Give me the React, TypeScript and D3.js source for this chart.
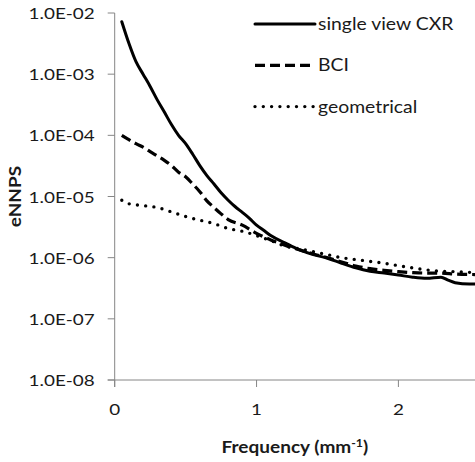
import React from 'react';
import * as d3 from 'd3';

// frequency (mm^-1) and eNNPS
const cxrFreq = [0.05, 0.1, 0.15, 0.2, 0.25, 0.3, 0.35, 0.4, 0.45, 0.5, 0.55, 0.6, 0.65, 0.7, 0.75, 0.8, 0.85, 0.9, 0.95, 1.0, 1.05, 1.1, 1.2, 1.3, 1.4, 1.5, 1.6, 1.7, 1.8, 1.9, 2.0, 2.1, 2.2, 2.3, 2.35, 2.4, 2.5, 2.54];
const cxrValues = [7.2e-3, 3.2e-3, 1.6e-3, 1.0e-3, 6.3e-4, 3.8e-4, 2.4e-4, 1.5e-4, 1.0e-4, 7.3e-5, 4.9e-5, 3.2e-5, 2.2e-5, 1.6e-5, 1.15e-5, 8.7e-6, 6.8e-6, 5.5e-6, 4.4e-6, 3.4e-6, 2.8e-6, 2.3e-6, 1.75e-6, 1.35e-6, 1.12e-6, 9.8e-7, 8.1e-7, 6.8e-7, 6.0e-7, 5.6e-7, 5.2e-7, 4.8e-7, 4.6e-7, 4.8e-7, 4.3e-7, 3.9e-7, 3.7e-7, 3.7e-7];

const bciFreq = [0.05, 0.1, 0.15, 0.2, 0.25, 0.3, 0.35, 0.4, 0.45, 0.5, 0.55, 0.6, 0.65, 0.7, 0.75, 0.8, 0.9, 1.0, 1.1, 1.2, 1.3, 1.4, 1.5, 1.6, 1.7, 1.8, 1.9, 2.0, 2.1, 2.2, 2.3, 2.4, 2.54];
const bciValues = [1.0e-4, 8.5e-5, 7.3e-5, 6.4e-5, 5.4e-5, 4.6e-5, 3.9e-5, 3.2e-5, 2.5e-5, 2.1e-5, 1.6e-5, 1.2e-5, 8.5e-6, 6.6e-6, 5.2e-6, 4.2e-6, 3.4e-6, 2.5e-6, 1.95e-6, 1.6e-6, 1.35e-6, 1.15e-6, 1.0e-6, 8.5e-7, 7.3e-7, 6.6e-7, 6.2e-7, 5.9e-7, 5.7e-7, 5.6e-7, 5.6e-7, 5.4e-7, 5.3e-7];

const geoFreq = [0.05, 0.1, 0.2, 0.3, 0.4, 0.5, 0.6, 0.7, 0.8, 0.9, 1.0, 1.1, 1.2, 1.3, 1.4, 1.5, 1.6, 1.7, 1.8, 1.9, 2.0, 2.1, 2.2, 2.3, 2.4, 2.54];
const geoValues = [8.7e-6, 7.6e-6, 7.1e-6, 6.6e-6, 5.6e-6, 4.7e-6, 4.1e-6, 3.6e-6, 3.0e-6, 2.7e-6, 2.3e-6, 1.9e-6, 1.55e-6, 1.4e-6, 1.25e-6, 1.12e-6, 1.0e-6, 9.3e-7, 8.7e-7, 8.1e-7, 7.4e-7, 6.8e-7, 6.3e-7, 6.0e-7, 5.9e-7, 5.7e-7];

const seriesNames = ['single view CXR', 'BCI', 'geometrical'];
const yTicks = [1e-2, 1e-3, 1e-4, 1e-5, 1e-6, 1e-7, 1e-8];
const xTicks = [0, 1, 2];

const FONT = 'Lato, sans-serif';
const SX = 1.18; // reference text is drawn wide

const W = 475, H = 462;
const x = d3.scaleLinear().domain([0, 2.54]).range([114.7, 475]);
const y = d3.scaleLog().domain([1e-8, 1e-2]).range([380, 13]);

const fmtExp = (v: number) => {
  const e = Math.round(Math.log10(v));
  return '1.0E-' + String(-e).padStart(2, '0');
};

const styles = [
  { dash: undefined, width: 3, cap: 'round' },
  { dash: '10,5', width: 3.2, cap: 'butt' },
  { dash: '0,8.3', width: 3.4, cap: 'round' },
];

export default function App() {
  const line = d3.line<[number, number]>()
    .x(d => x(d[0]))
    .y(d => y(d[1]))
    .curve(d3.curveMonotoneX);

  const series = [
    d3.zip(cxrFreq, cxrValues),
    d3.zip(bciFreq, bciValues),
    d3.zip(geoFreq, geoValues),
  ] as [number, number][][];

  const axisColor = '#868686';
  const textColor = '#1a1a1a';
  const [x0, x1] = x.range();
  const [yb, yt] = y.range();

  return (
    <svg width={W} height={H} style={{ position: 'absolute', left: 0, top: 0, background: '#fff' }}
      fontFamily={FONT}>
      {/* y axis */}
      <line x1={x0} x2={x0} y1={yt} y2={yb + 7} stroke={axisColor} strokeWidth={1} />
      {yTicks.map(t => (
        <g key={t}>
          <line x1={x0 - 7} x2={x0} y1={y(t)} y2={y(t)} stroke={axisColor} />
          <text transform={`translate(${x0 - 20},${y(t) + 6}) scale(${SX},1)`} textAnchor="end"
            fontSize={16} fill={textColor}>{fmtExp(t)}</text>
        </g>
      ))}
      {/* x axis */}
      <line x1={x0 - 7} x2={x1} y1={yb} y2={yb} stroke={axisColor} strokeWidth={1} />
      {xTicks.map(t => (
        <g key={t}>
          <line x1={x(t)} x2={x(t)} y1={yb} y2={yb + 7} stroke={axisColor} />
          <text transform={`translate(${x(t)},${yb + 35}) scale(${SX},1)`} textAnchor="middle"
            fontSize={16} fill={textColor}>{t}</text>
        </g>
      ))}

      {/* axis titles */}
      <text transform={`translate(${(x0 + x1) / 2},${453}) scale(1.12,1)`} textAnchor="middle"
        fontSize={17} fontWeight="bold" fill={textColor}>
        Frequency (mm<tspan dy={-6} fontSize={11}>-1</tspan><tspan dy={6}>)</tspan>
      </text>
      <text transform={`translate(${21},${(yt + yb) / 2}) rotate(-90) scale(1.12,1)`} textAnchor="middle"
        fontSize={17} fontWeight="bold" fill={textColor}>eNNPS</text>

      {/* series */}
      {series.map((s, i) => (
        <path key={i} d={line(s) || ''} fill="none" stroke="#000" strokeWidth={styles[i].width}
          strokeDasharray={styles[i].dash} strokeLinecap={styles[i].cap as any} strokeLinejoin="round" />
      ))}

      {/* legend */}
      {seriesNames.map((name, i) => {
        const ly = 24 + i * 41.3;
        return (
          <g key={name}>
            <line x1={255} x2={315} y1={ly} y2={ly} stroke="#000" strokeWidth={styles[i].width}
              strokeDasharray={styles[i].dash} strokeLinecap={styles[i].cap as any} />
            <text transform={`translate(${318},${ly + 6}) scale(1.14,1)`} fontSize={17}
              fill={textColor}>{name}</text>
          </g>
        );
      })}
    </svg>
  );
}
